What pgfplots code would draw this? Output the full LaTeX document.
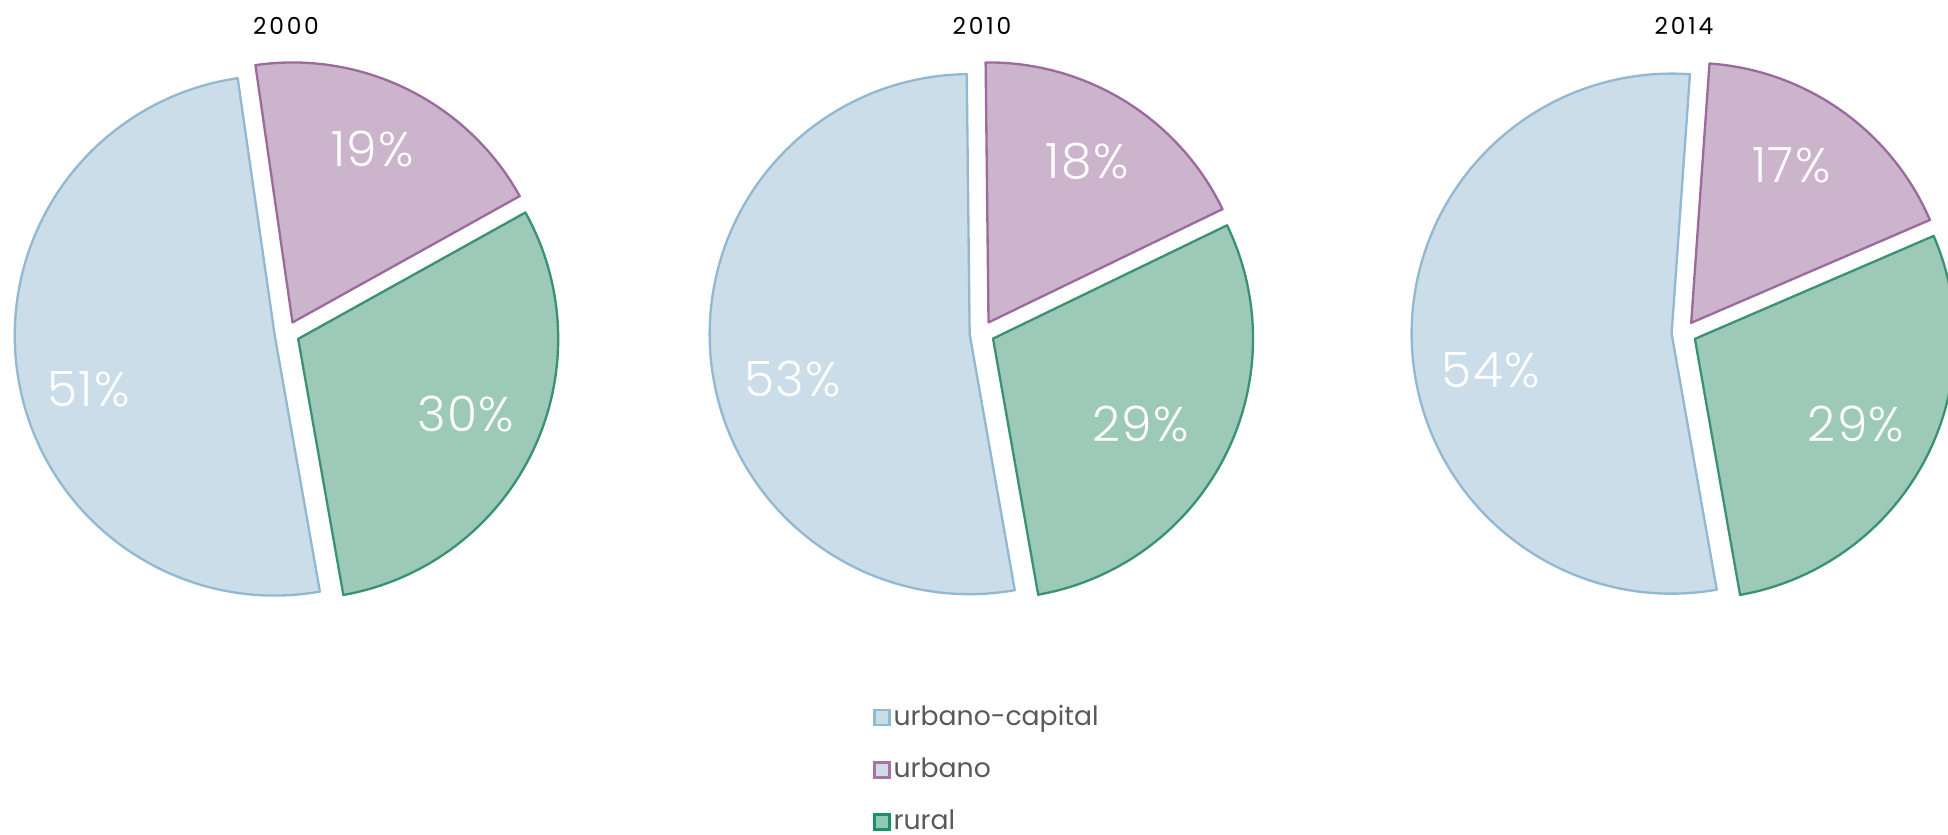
\documentclass[border=0pt]{standalone}
\usepackage{pgfplots}
\usepackage{pgfplotstable}
\pgfplotsset{compat=1.18}
\usepackage{fontspec}
\setmainfont{Poppins}
\newfontfamily\lightfont{Poppins Light}[LetterSpace=3]
\newfontfamily\titlefont{Poppins}[LetterSpace=12]

\definecolor{fill0}{HTML}{CADDE8}
\definecolor{line0}{HTML}{93B9D2}
\definecolor{fill1}{HTML}{CCB4CC}
\definecolor{line1}{HTML}{9B6B9E}
\definecolor{fill2}{HTML}{9DCAB8}
\definecolor{line2}{HTML}{3A9271}
\definecolor{legtext}{HTML}{595959}
\definecolor{legfill0}{HTML}{CADDE6}
\definecolor{legline0}{HTML}{8EBCD4}
\definecolor{legfill1}{HTML}{CFDDE3}
\definecolor{legline1}{HTML}{A673A6}
\definecolor{legfill2}{HTML}{8FC9B3}
\definecolor{legline2}{HTML}{1A9070}

% one row per slice (urbano-capital, urbano, rural for each year):
% pie centre (px), share in % (as drawn), printed label, label position (px)
\pgfplotstableread{
year cx   cy    share label lx     ly
2000 287  501.4 50.5  51    88.8   445.3
2000 287  501.4 19.2  19    372.7  686.0
2000 287  501.4 30.3  30    465.9  421.3
2010 982  502.0 52.6  53    792.6  456.1
2010 982  502.0 18.0  18    1087.0 673.5
2010 982  502.0 29.4  29    1140.4 411.4
2014 1684 502.0 53.9  54    1490.8 464.8
2014 1684 502.0 17.4  17    1791.4 669.8
2014 1684 502.0 28.7  29    1856.0 411.4
}\slices

\begin{document}
\begin{tikzpicture}
\begin{axis}[
  x=0.3pt, y=0.3pt,
  xmin=0, xmax=1948, ymin=0, ymax=835,
  axis lines=none, clip=true,
  legend style={at={(axis cs:873.3,133)}, anchor=north west, draw=none, fill=none,
    inner sep=0pt, outer sep=0pt, row sep=6.4pt,
    font=\fontsize{8}{9.5}\selectfont, text=legtext,
    nodes={inner sep=0.9pt}},
  legend cell align=left,
  legend image code/.code={\draw[#1,line width=0.7pt] (0pt,-2.25pt) rectangle (4.5pt,2.25pt);},
]
\pgfplotsinvokeforeach{0,...,8}{
  \pgfplotstablegetelem{#1}{cx}\of\slices \let\cx\pgfplotsretval
  \pgfplotstablegetelem{#1}{cy}\of\slices \let\cy\pgfplotsretval
  \pgfplotstablegetelem{#1}{share}\of\slices \let\pct\pgfplotsretval
  \pgfplotstablegetelem{#1}{label}\of\slices \let\lab\pgfplotsretval
  \pgfplotstablegetelem{#1}{lx}\of\slices \let\lx\pgfplotsretval
  \pgfplotstablegetelem{#1}{ly}\of\slices \let\ly\pgfplotsretval
  \pgfmathtruncatemacro\k{mod(#1,3)}
  \ifnum\k=0 \gdef\curang{-80}\fi
  \pgfmathsetmacro\endang{\curang-3.6*\pct}
  \pgfmathsetmacro\midang{(\curang+\endang)/2}
  \pgfmathsetmacro\vx{\cx+12.4*cos(\midang)}
  \pgfmathsetmacro\vy{\cy+12.4*sin(\midang)}
  \edef\temp{\noexpand\filldraw[fill=fill\k,draw=line\k,line width=0.7pt,line join=round]
     (axis cs:\vx,\vy) -- ++(\curang:78pt) arc[start angle=\curang,end angle=\endang,radius=78pt] -- cycle;
     \noexpand\node[text=white,font=\noexpand\lightfont\noexpand\fontsize{14.6}{16}\noexpand\selectfont]
     at (axis cs:\lx,\ly) {\lab\noexpand\%};}
  \temp
  \global\let\curang\endang
}
\node[font=\titlefont\fontsize{7}{8}\selectfont] at (axis cs:286,809.2) {2000};
\node[font=\titlefont\fontsize{7}{8}\selectfont] at (axis cs:982,809.2) {2010};
\node[font=\titlefont\fontsize{7}{8}\selectfont] at (axis cs:1684,809.2) {2014};
\addlegendimage{fill=legfill0,draw=legline0}
\addlegendentry{urbano-capital}
\addlegendimage{fill=legfill1,draw=legline1}
\addlegendentry{urbano}
\addlegendimage{fill=legfill2,draw=legline2}
\addlegendentry{rural}
\end{axis}
\pgfresetboundingbox
\path (0,0) rectangle (584.4pt,250.5pt);
\end{tikzpicture}
\end{document}
